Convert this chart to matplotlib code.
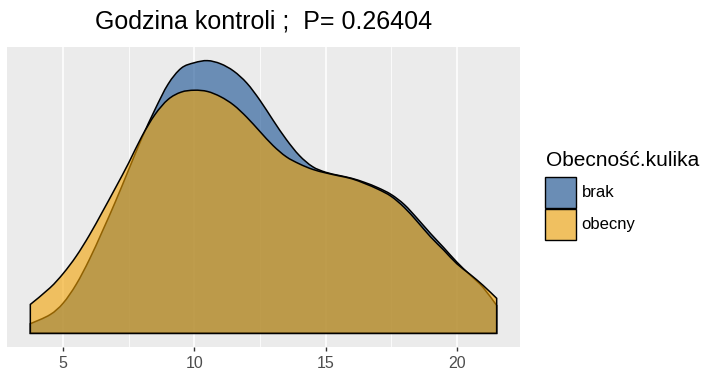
import numpy as np
import matplotlib
matplotlib.use("Agg")
import matplotlib.pyplot as plt
from matplotlib.patches import Patch, PathPatch
from matplotlib.path import Path

plt.rcParams['font.family'] = ['Liberation Sans', 'DejaVu Sans']

# density curves
godzina = [3.75, 4.5, 5, 5.5, 6, 6.5, 7, 7.5, 8, 8.5, 9, 9.5, 10, 10.5, 11, 11.5,
           12, 12.5, 13, 13.5, 14, 14.5, 15, 15.5, 16, 16.5, 17, 17.5, 18, 18.5,
           19, 19.5, 20, 20.5, 21, 21.52]
brak = [0.0046, 0.0089, 0.0144, 0.0234, 0.0352, 0.0488, 0.0630, 0.0781, 0.0931,
        0.1067, 0.1188, 0.1264, 0.1290, 0.1300, 0.1285, 0.1250, 0.1193, 0.1111,
        0.1016, 0.0925, 0.0848, 0.0795, 0.0768, 0.0753, 0.0739, 0.0719, 0.0694,
        0.0662, 0.0614, 0.0547, 0.0476, 0.0409, 0.0340, 0.0279, 0.0219, 0.0133]
obecny = [0.0138, 0.0217, 0.0285, 0.0368, 0.0468, 0.0580, 0.0695, 0.0813, 0.0939,
          0.1043, 0.1115, 0.1150, 0.1159, 0.1153, 0.1128, 0.1088, 0.1030, 0.0962,
          0.0895, 0.0842, 0.0808, 0.0782, 0.0765, 0.0751, 0.0737, 0.0714, 0.0687,
          0.0653, 0.0600, 0.0532, 0.0460, 0.0397, 0.0332, 0.0282, 0.0229, 0.0167]
grupy = ["brak", "obecny"]
kolory = ["#144E91", "#F3A303"]
klucze = ["#6A8DB5", "#F0C060"]
x_ticks = [5, 10, 15, 20]
tytul = "Godzina kontroli ;  P= 0.26404"
legenda = "Obecność.kulika"


def density_path(xs, ys):
    # smooth outline through the read points (Catmull-Rom as cubic Bezier)
    p = np.column_stack([xs, ys])
    verts = [(xs[0], 0), tuple(p[0])]
    codes = [Path.MOVETO, Path.LINETO]
    n = len(p)
    for i in range(n - 1):
        a = p[max(i - 1, 0)]
        b = p[i]
        c = p[i + 1]
        d = p[min(i + 2, n - 1)]
        verts += [tuple(b + (c - a) / 6), tuple(c - (d - b) / 6), tuple(c)]
        codes += [Path.CURVE4] * 3
    verts += [(xs[-1], 0), (xs[0], 0)]
    codes += [Path.LINETO, Path.CLOSEPOLY]
    return Path(verts, codes)


W, H = 708, 381
fig = plt.figure(figsize=(W / 100, H / 100), dpi=100)
ax = fig.add_axes([7 / W, 34 / H, 513 / W, 300 / H])
ax.set_facecolor("#EBEBEB")

x = np.array(godzina)
for ys, c in zip([brak, obecny], kolory):
    path = density_path(x, np.array(ys))
    ax.add_patch(PathPatch(path, facecolor=c, alpha=0.6, edgecolor="none", zorder=3))
    ax.add_patch(PathPatch(path, facecolor="none", edgecolor="black",
                           linewidth=1.1, zorder=3))

xr = x[-1] - x[0]
ax.set_xlim(x[0] - 0.05 * xr, x[-1] + 0.05 * xr)
ymax = max(max(brak), max(obecny))
ax.set_ylim(-0.05 * ymax, 1.05 * ymax)

ax.set_xticks(x_ticks)
ax.set_xticks([7.5, 12.5, 17.5], minor=True)
ax.set_yticks([])
ax.grid(True, which="major", axis="x", color="white", linewidth=1.1, zorder=0)
ax.grid(True, which="minor", axis="x", color="white", linewidth=0.55, zorder=0)
ax.set_axisbelow(True)
ax.tick_params(axis="x", which="major", length=3.2, width=1.0, color="#333333",
               labelsize=11.5, labelcolor="#4D4D4D", pad=3)
ax.tick_params(axis="x", which="minor", length=0)
for s in ax.spines.values():
    s.set_visible(False)

fig.text((7 + 520) / 2 / W, 1 - 22 / H, tytul, ha="center", va="center",
         fontsize=18)

fig.text(546 / W, 1 - 160 / H, legenda, ha="left", va="center", fontsize=15)
handles = [Patch(facecolor=k, edgecolor="black", linewidth=1.0) for k in klucze]
leg = fig.legend(handles, grupy, loc="upper left",
                 bbox_to_anchor=(545 / W, 1 - 177 / H),
                 frameon=False, fontsize=12,
                 handlelength=1.85, handleheight=2.45, handletextpad=0.35,
                 labelspacing=0.08, borderpad=0, borderaxespad=0)

fig.savefig("out.png", dpi=100)
